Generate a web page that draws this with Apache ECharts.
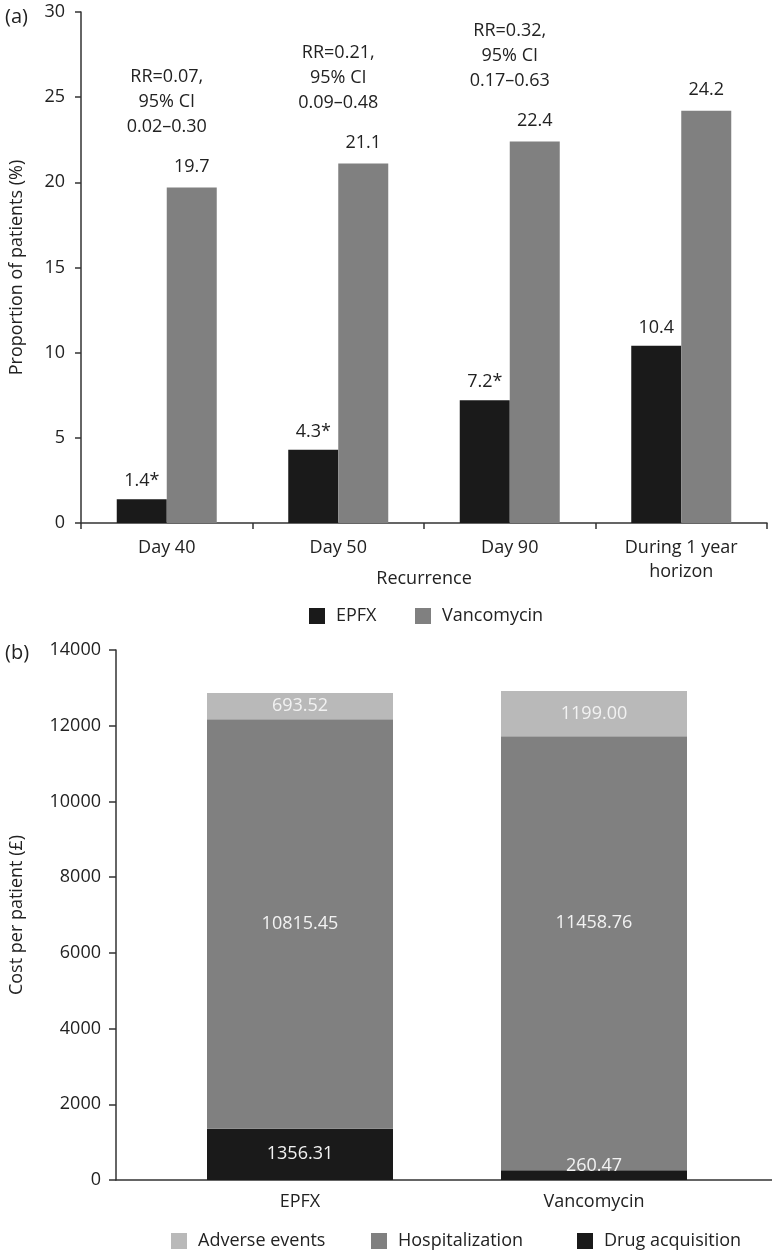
<!DOCTYPE html>
<html>
<head>
<meta charset="utf-8">
<script src="https://cdn.jsdelivr.net/npm/echarts@6/dist/echarts.min.js"></script>
<style>
html,body{margin:0;padding:0;background:#fff;}
#chart{width:772px;height:1250px;}
</style>
</head>
<body>
<div id="chart"></div>
<script>
// ---- Panel (a) data ----
const recurrenceCategories = ['Day 40', 'Day 50', 'Day 90', 'During 1 year\nhorizon'];
const epfxProportion = [1.4, 4.3, 7.2, 10.4];
const epfxSignificant = [true, true, true, false];
const vancomycinProportion = [19.7, 21.1, 22.4, 24.2];
const rrAnnotations = ['RR=0.07,\n95% CI\n0.02–0.30', 'RR=0.21,\n95% CI\n0.09–0.48', 'RR=0.32,\n95% CI\n0.17–0.63'];
const panelATicks = [0, 5, 10, 15, 20, 25, 30];

// ---- Panel (b) data ----
const costCategories = ['EPFX', 'Vancomycin'];
const drugAcquisition = [1356.31, 260.47];
const hospitalization = [10815.45, 11458.76];
const adverseEvents = [693.52, 1199.00];
const panelBTicks = [0, 2000, 4000, 6000, 8000, 10000, 12000, 14000];

const FONT = 'Open Sans';
const FS = 18;
const TXT = '#222';
const AX = '#333';
const DARK = '#1a1a1a';
const MID = '#808080';
const LIGHT = '#b9b9b9';

const chart = echarts.init(document.getElementById('chart'));

function legendAt(name, left, top) {
  return {
    data: [name], left: left, top: top,
    icon: 'rect', itemWidth: 16, itemHeight: 16,
    textStyle: { fontFamily: FONT, fontSize: FS, color: TXT, padding: [0, 0, 0, 6] }
  };
}

const option = {
  animation: false,
  textStyle: { fontFamily: FONT, color: TXT },
  title: [
    { text: '(a)', left: 0, top: 2, textStyle: { fontFamily: FONT, fontSize: 20, fontWeight: 'normal', color: TXT } },
    { text: '(b)', left: 0, top: 638, textStyle: { fontFamily: FONT, fontSize: 20, fontWeight: 'normal', color: TXT } }
  ],
  legend: [
    legendAt('EPFX', 304, 602),
    legendAt('Vancomycin', 410, 602),
    legendAt('Adverse events', 166, 1227),
    legendAt('Hospitalization', 366, 1227),
    legendAt('Drug acquisition', 572, 1227)
  ],
  grid: [
    { left: 79, right: 5, top: 12, bottom: 727 },
    { left: 114, right: 0, top: 650, bottom: 70 },
    { left: 153, right: 31, top: 650, bottom: 70 }
  ],
  xAxis: [
    {
      gridIndex: 0, type: 'category', data: recurrenceCategories,
      axisLine: { lineStyle: { color: AX, width: 1.5 } },
      axisTick: { show: true, length: 6, lineStyle: { color: AX, width: 1.5 } },
      axisLabel: { fontFamily: FONT, fontSize: FS, color: TXT, margin: 13, lineHeight: 24 },
      name: 'Recurrence', nameLocation: 'middle', nameGap: 47, nameMoveOverlap: false,
      nameTextStyle: { fontFamily: FONT, fontSize: FS, color: TXT }
    },
    {
      gridIndex: 1, type: 'value', min: 0, max: 1,
      axisLine: { show: true, onZero: false, lineStyle: { color: AX, width: 1.5 } },
      axisTick: { show: false }, axisLabel: { show: false }, splitLine: { show: false }
    },
    {
      gridIndex: 2, type: 'category', data: costCategories,
      axisLine: { show: false }, axisTick: { show: false },
      axisLabel: { fontFamily: FONT, fontSize: FS, color: TXT, margin: 13 }
    }
  ],
  yAxis: [
    {
      gridIndex: 0, type: 'value', min: panelATicks[0], max: panelATicks[panelATicks.length - 1], interval: 5,
      axisLine: { show: true, lineStyle: { color: AX, width: 1.5 } },
      axisTick: { show: true, length: 6, lineStyle: { color: AX, width: 1.5 } },
      axisLabel: { fontFamily: FONT, fontSize: FS, color: TXT, margin: 16, formatter: v => String(v) },
      splitLine: { show: false },
      name: 'Proportion of patients (%)', nameLocation: 'middle', nameGap: 55,
      nameTextStyle: { fontFamily: FONT, fontSize: FS, color: TXT }
    },
    {
      gridIndex: 1, type: 'value', min: panelBTicks[0], max: panelBTicks[panelBTicks.length - 1], interval: 2000,
      axisLine: { show: true, lineStyle: { color: AX, width: 1.5 } },
      axisTick: { show: true, length: 7, lineStyle: { color: AX, width: 1.5 } },
      axisLabel: { fontFamily: FONT, fontSize: FS, color: TXT, margin: 15, formatter: v => String(v) },
      splitLine: { show: false },
      name: 'Cost per patient (£)', nameLocation: 'middle', nameGap: 90,
      nameTextStyle: { fontFamily: FONT, fontSize: FS, color: TXT }
    },
    {
      gridIndex: 2, type: 'value', min: panelBTicks[0], max: panelBTicks[panelBTicks.length - 1], show: false
    }
  ],
  series: [
    {
      name: 'EPFX', type: 'bar', xAxisIndex: 0, yAxisIndex: 0,
      data: epfxProportion, barWidth: 50, barGap: '0%',
      itemStyle: { color: DARK },
      label: {
        show: true, position: 'top', distance: 9, fontFamily: FONT, fontSize: FS, color: TXT,
        formatter: p => p.value + (epfxSignificant[p.dataIndex] ? '*' : '')
      }
    },
    {
      name: 'Vancomycin', type: 'bar', xAxisIndex: 0, yAxisIndex: 0,
      data: vancomycinProportion, barWidth: 50, barGap: '0%',
      itemStyle: { color: MID },
      label: { show: true, position: 'top', distance: 12, fontFamily: FONT, fontSize: FS, color: TXT }
    },
    {
      name: 'RR', type: 'scatter', xAxisIndex: 0, yAxisIndex: 0,
      data: vancomycinProportion.slice(0, rrAnnotations.length),
      symbolSize: 0, silent: true,
      itemStyle: { opacity: 1, color: TXT },
      label: {
        show: true, position: 'top', distance: 48, fontFamily: FONT, fontSize: FS, color: TXT,
        lineHeight: 25, align: 'center',
        formatter: p => rrAnnotations[p.dataIndex]
      }
    },
    {
      name: 'Drug acquisition', type: 'bar', stack: 'cost', xAxisIndex: 2, yAxisIndex: 2,
      data: drugAcquisition.map((v, i) => ({ value: v, label: i === 1 ? { offset: [0, -9] } : {} })),
      barWidth: 186,
      itemStyle: { color: DARK },
      label: { show: true, position: 'inside', fontFamily: FONT, fontSize: FS, color: '#f2f2f2',
        formatter: p => p.value.toFixed(2) }
    },
    {
      name: 'Hospitalization', type: 'bar', stack: 'cost', xAxisIndex: 2, yAxisIndex: 2,
      data: hospitalization.map((v, i) => ({ value: v, label: i === 1 ? { offset: [0, -30] } : {} })),
      barWidth: 186,
      itemStyle: { color: MID },
      label: { show: true, position: 'inside', fontFamily: FONT, fontSize: FS, color: '#f2f2f2',
        formatter: p => p.value.toFixed(2) }
    },
    {
      name: 'Adverse events', type: 'bar', stack: 'cost', xAxisIndex: 2, yAxisIndex: 2,
      data: adverseEvents, barWidth: 186,
      itemStyle: { color: LIGHT },
      label: { show: true, position: 'inside', fontFamily: FONT, fontSize: FS, color: '#f2f2f2',
        formatter: p => p.value.toFixed(2) }
    }
  ]
};
chart.setOption(option);
</script>
</body>
</html>
